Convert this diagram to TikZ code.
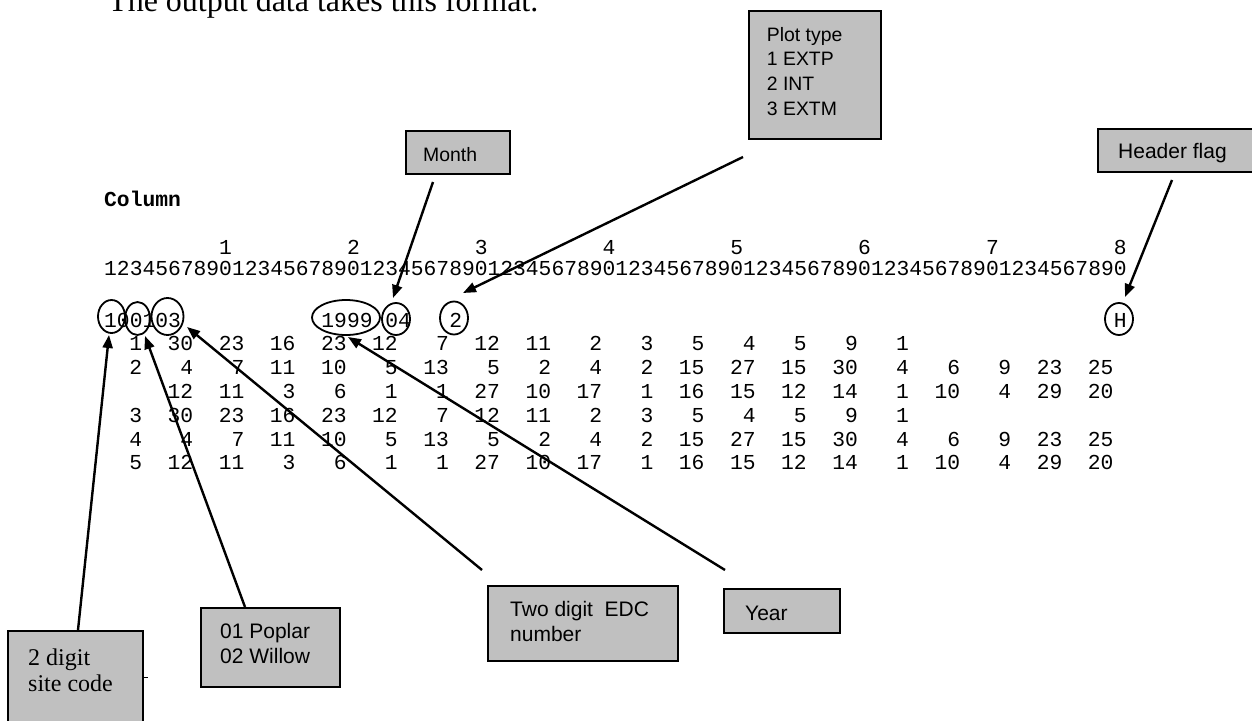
\documentclass[tikz,border=0pt]{standalone}
\usepackage{fontspec}
\setmainfont{Liberation Serif}
\newfontfamily\fsan{Liberation Sans}
\newfontfamily\fmon{Liberation Mono}
\usetikzlibrary{arrows.meta,shapes.geometric}
\definecolor{boxgray}{HTML}{C0C0C0}
\tikzset{
  box/.style={draw=black, line width=1.6pt, fill=boxgray, rectangle, inner sep=0pt, anchor=north west},
  lblA/.style={anchor=base west, inner sep=0pt, font=\fsan\fontsize{21}{24}\selectfont},
  lblB/.style={anchor=base west, inner sep=0pt, font=\fsan\fontsize{19.4}{24}\selectfont},
  lblS/.style={anchor=base west, inner sep=0pt, font=\fontsize{24}{27}\selectfont},
  mono/.style={inner sep=0pt, font=\fmon\fontsize{21.3}{24}\selectfont},
  ell/.style={draw=black, line width=1.8pt, ellipse, inner sep=0pt},
  arr/.style={draw=black, line width=2.4pt, -{Triangle[length=13pt,width=10pt]}},
}
\newcommand\drow[3]{%
  \foreach \v [count=\k from 0] in {#3} {
    \node[mono, anchor=base east] (#1-\k) at ({104+(3+4*\k)*12.78}, #2) {\v};
  }}
\begin{document}
\begin{tikzpicture}[x=1pt,y=-1pt]
\useasboundingbox (0,0) rectangle (1252,720);
\clip (0,0) rectangle (1252,720);

% title line
\node[anchor=base west, inner sep=0pt, font=\fontsize{32}{36}\selectfont] (title) at (108,12) {The output data takes this format.};

% column header
\node[mono, anchor=base west, font=\fmon\bfseries\fontsize{21.3}{24}\selectfont] (colhdr) at (104,206) {Column};
\foreach \d in {1,...,8}
  \node[mono, anchor=base west] (tens\d) at ({104+(10*\d-1)*12.78},254.5) {\d};
\node[mono, anchor=base west] (ruler) at (104,275) {12345678901234567890123456789012345678901234567890123456789012345678901234567890};

% header record
\node[mono, anchor=base west] (h1) at (104,327) {100103};
\node[mono, anchor=base west] (h2) at ({104+17*12.78},327) {1999};
\node[mono, anchor=base west] (h3) at ({104+22*12.78},327) {04};
\node[mono, anchor=base west] (h4) at ({104+27*12.78},327) {2};
\node[mono, anchor=base west] (h5) at ({104+79*12.78},327) {H};

% data rows
\drow{ra}{350.8}{1,30,23,16,23,12,7,12,11,2,3,5,4,5,9,1}
\drow{rb}{374.6}{2,4,7,11,10,5,13,5,2,4,2,15,27,15,30,4,6,9,23,25}
\drow{rc}{398.4}{{},12,11,3,6,1,1,27,10,17,1,16,15,12,14,1,10,4,29,20}
\drow{rd}{422.2}{3,30,23,16,23,12,7,12,11,2,3,5,4,5,9,1}
\drow{re}{446}{4,4,7,11,10,5,13,5,2,4,2,15,27,15,30,4,6,9,23,25}
\drow{rf}{469.8}{5,12,11,3,6,1,1,27,10,17,1,16,15,12,14,1,10,4,29,20}

% circles
\node[ell, minimum width=27pt, minimum height=33pt] (c10) at (111.5,316.5) {};
\node[ell, minimum width=25pt, minimum height=33pt] (c01) at (137.5,318.5) {};
\node[ell, minimum width=32pt, minimum height=37pt] (c03) at (167.5,316.5) {};
\node[ell, minimum width=68pt, minimum height=35pt] (c1999) at (346,317.5) {};
\node[ell, minimum width=28pt, minimum height=32pt] (c04) at (396,319) {};
\node[ell, minimum width=28pt, minimum height=33pt] (c2) at (454,318) {};
\node[ell, minimum width=28pt, minimum height=32pt] (cH) at (1119,319) {};

% boxes
\node[box, minimum width=132pt, minimum height=128pt] (plot) at (748,10) {};
\node[lblB] (plot1) at (766.7,41.7) {Plot type};
\node[lblB] (plot2) at (766.7,65.5) {1 EXTP};
\node[lblB] (plot3) at (766.7,90) {2 INT};
\node[lblB] (plot4) at (766.7,115) {3 EXTM};

\node[box, minimum width=104pt, minimum height=43pt] (month) at (405,130) {};
\node[lblB] (monthT) at (423,161.7) {Month};

\node[box, minimum width=158pt, minimum height=43pt] (header) at (1097,128) {};
\node[lblA] (headerT) at (1118,158.3) {Header flag};

\node[box, minimum width=135pt, minimum height=110pt] (site) at (7,630) {};
\node[lblS] (site1) at (28,665) {2 digit};
\node[lblS] (site2) at (28,691.7) {site code};
\draw[line width=0.6pt] (site.east |- 0,677) -- ++(4,0);

\node[box, minimum width=139pt, minimum height=79pt] (poplar) at (200,607) {};
\node[lblA] (poplar1) at (220,638.3) {01 Poplar};
\node[lblA] (poplar2) at (220,663.3) {02 Willow};

\node[box, minimum width=190pt, minimum height=75pt] (edc) at (487,585) {};
\node[lblA] (edc1) at (510,616.7) {Two digit\ \ EDC};
\node[lblA] (edc2) at (510,641.7) {number};

\node[box, minimum width=116pt, minimum height=44pt] (year) at (723,588) {};
\node[lblA] (yearT) at (745,620) {Year};

% connector end points
\coordinate (mS) at (433,182);   \coordinate (mT) at (393,298);
\coordinate (pS) at (743,157);   \coordinate (pT) at (463,293);
\coordinate (hS) at (1172,180);  \coordinate (hT) at (1125,297);
\coordinate (sS) at (78,630);    \coordinate (sT) at (109,335);
\coordinate (oS) at (245,607);   \coordinate (oT) at (145,336);
\coordinate (eS) at (482,570);   \coordinate (eT) at (187,327);
\coordinate (yS) at (725,570);   \coordinate (yT) at (348,337);

\draw[arr] (mS) -- (mT);
\draw[arr] (pS) -- (pT);
\draw[arr] (hS) -- (hT);
\draw[arr] (sS) -- (sT);
\draw[arr] (oS) -- (oT);
\draw[arr] (eS) -- (eT);
\draw[arr] (yS) -- (yT);
\end{tikzpicture}
\end{document}
